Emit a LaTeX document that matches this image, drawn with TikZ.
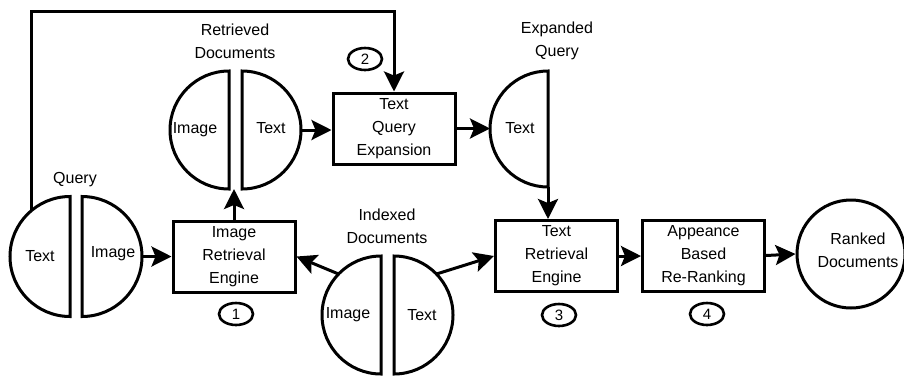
\documentclass[tikz,border=0pt]{standalone}
\usepackage{fontspec}
\setmainfont{Liberation Sans}
\usetikzlibrary{arrows.meta,shapes.geometric,calc}

% half of a split document symbol: #1 flat-edge x, #2 centre y, #3 radius
\newcommand{\halfdocL}[3]{\draw[halfdoc] (#1,#2-#3) arc[start angle=90,end angle=270,radius=#3 pt] -- cycle;}
\newcommand{\halfdocR}[3]{\draw[halfdoc] (#1,#2-#3) arc[start angle=90,end angle=-90,radius=#3 pt] -- cycle;}

\begin{document}
\begin{tikzpicture}[x=1pt,y=-1pt,
  font=\fontsize{16}{23}\selectfont,
  halfdoc/.style={draw,line width=3pt,line join=miter},
  flow/.style={line width=3pt,-{Stealth[length=20pt,width=20pt,inset=4pt]}},
  procbox/.style={draw,line width=3pt,rectangle,minimum width=122pt,minimum height=71pt,align=center,inner sep=0pt},
  stepnum/.style={draw,ellipse,line width=2.6pt,minimum width=34pt,minimum height=22pt,inner sep=0pt,font=\fontsize{15}{15}\selectfont},
  lbl/.style={align=center,inner sep=0pt}
]
\useasboundingbox (0,0) rectangle (904,376);

% ---------- document symbols ----------
% query
\halfdocL{70}{256.5}{60}
\halfdocR{82}{256.5}{60}
\node[lbl] (qtext)  at (40,256) {Text};
\node[lbl] (qimage) at (113,254) {Image};
\node[lbl] (qlabel) at (75,180) {Query};
\coordinate (qloop) at (31,211);
\coordinate (qout)  at (142,256.5);

% retrieved documents
\halfdocL{229}{130}{59}
\halfdocR{242}{130}{59}
\node[lbl] (rimage) at (195,130) {Image};
\node[lbl] (rtext)  at (271,128) {Text};
\node[lbl] (rlabel) at (235,41.5) {Retrieved\\Documents};
\coordinate (rbot) at (235.5,189);
\coordinate (rout) at (301,130);

% expanded query
\halfdocL{548}{129}{58}
\node[lbl] (etext)  at (520,128) {Text};
\node[lbl] (elabel) at (557,40.5) {Expanded\\Query};
\coordinate (ein)  at (490,129);
\coordinate (ebot) at (548,187);

% indexed documents
\halfdocL{381}{315}{59}
\halfdocR{394}{315}{59}
\node[lbl] (iimage) at (348,315) {Image};
\node[lbl] (itext)  at (422,315) {Text};
\node[lbl] (ilabel) at (387,226.5) {Indexed\\Documents};
\coordinate (iout1) at ($(381,315)+(136:59pt)$);
\coordinate (iout2) at ($(394,315)+(44:59pt)$);

% ranked documents
\node[draw,circle,line width=3pt,minimum size=108pt,inner sep=0pt] (ranked) at (851,254) {};
\node[lbl] (rankedtext) at (858,250) {Ranked\\Documents};

% ---------- processing steps ----------
\node[procbox] (ire) at (234,256.5) {Image\\Retrieval\\Engine};
\node[procbox] (tqe) at (394,128.5) {Text\\Query\\Expansion};
\node[procbox] (tre) at (556.5,256) {Text\\Retrieval\\Engine};
\node[procbox] (abr) at (703.5,255.5) {Appeance\\Based\\Re-Ranking};

\node[stepnum] (n1) at (236,314) {1};
\node[stepnum] (n2) at (365,59) {2};
\node[stepnum] (n3) at (559,315) {3};
\node[stepnum] (n4) at (707,314) {4};

% ---------- connectors ----------
\coordinate (looptop) at (394,11);
\draw[flow] (qloop) |- (looptop) -- (tqe.north);
\draw[flow] (qout) -- (qout -| ire.west);
\draw[flow] (ire.north) -- (ire.north |- rbot);
\draw[flow] (rout) -- (rout -| tqe.west);
\draw[flow] (tqe.east) -- (tqe.east -| ein);
\draw[flow] (ebot) -- (ebot |- tre.north);
\draw[flow] (iout1) -- (ire.east);
\draw[flow] (iout2) -- (tre.west);
\draw[flow] (tre.east) -- (tre.east -| abr.west);
\draw[flow] (abr.east) -- (ranked.west);
\end{tikzpicture}
\end{document}
